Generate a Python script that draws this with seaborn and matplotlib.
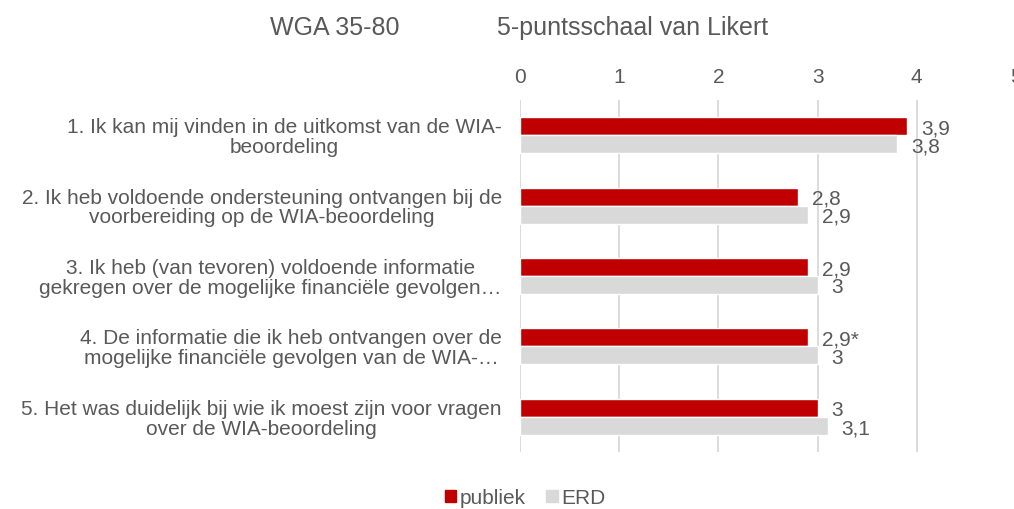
import matplotlib
matplotlib.use("Agg")
import matplotlib.pyplot as plt
from matplotlib.patches import Patch
import pandas as pd
import seaborn as sns

vragen = [
    "1. Ik kan mij vinden in de uitkomst van de WIA-\nbeoordeling",
    "2. Ik heb voldoende ondersteuning ontvangen bij de\nvoorbereiding op de WIA-beoordeling",
    "3. Ik heb (van tevoren) voldoende informatie\ngekregen over de mogelijke financiële gevolgen…",
    "4. De informatie die ik heb ontvangen over de\nmogelijke financiële gevolgen van de WIA-…",
    "5. Het was duidelijk bij wie ik moest zijn voor vragen\nover de WIA-beoordeling",
]
publiek = [3.9, 2.8, 2.9, 2.9, 3.0]
erd = [3.8, 2.9, 3.0, 3.0, 3.1]
labels_publiek = ["3,9", "2,8", "2,9", "2,9*", "3"]
labels_erd = ["3,8", "2,9", "3", "3", "3,1"]

df = pd.DataFrame({
    "vraag": vragen * 2,
    "score": publiek + erd,
    "groep": ["publiek"] * 5 + ["ERD"] * 5,
})

sns.set_style("white")
plt.rcParams['font.family'] = ['Liberation Sans', 'DejaVu Sans']
txt = "#595959"

fig = plt.figure(figsize=(10.14, 5.09), dpi=100)
ax = fig.add_axes([520 / 1014, 1 - 452 / 509, (1016 - 520) / 1014, (452 - 100) / 509])

sns.barplot(data=df, y="vraag", x="score", hue="groep", orient="h",
            palette={"publiek": "#C00000", "ERD": "#D9D9D9"},
            width=0.51, gap=0, ax=ax, legend=False, saturation=1)

for cont, labs in zip(ax.containers, [labels_publiek, labels_erd]):
    teksten = ax.bar_label(cont, labels=labs, padding=10, fontsize=15, color=txt)
    for t in teksten:
        t.xyann = (10, -2)  # labels zitten iets onder het midden van de balk

ax.set_xlim(0, 5)
ax.set_ylim(4.5, -0.5)
ax.set_xticks([0, 1, 2, 3, 4, 5])
ax.xaxis.tick_top()
ax.tick_params(axis="x", length=0, pad=9.5, labelsize=15, labelcolor=txt)
ax.tick_params(axis="y", length=0, pad=13, labelsize=15, labelcolor=txt)
for t in ax.get_yticklabels():
    t.set_multialignment("center")
    t.set_linespacing(1.05)
ax.set_xlabel("")
ax.set_ylabel("")
ax.grid(axis="x", color="#D9D9D9", linewidth=1.3)
ax.set_axisbelow(True)
for s in ax.spines.values():
    s.set_visible(False)

fig.text(270 / 1014, 1 - 28 / 509, "WGA 35-80", fontsize=18, color=txt, va="center", ha="left")
fig.text(497 / 1014, 1 - 28 / 509, "5-puntsschaal van Likert", fontsize=18, color=txt, va="center", ha="left")

handles = [Patch(color="#C00000", label="publiek"), Patch(color="#D9D9D9", label="ERD")]
fig.legend(handles=handles, loc="center", bbox_to_anchor=(525 / 1014, 1 - 498 / 509), ncol=2,
           frameon=False, fontsize=15, labelcolor=txt, handlelength=0.55, handleheight=0.55,
           handletextpad=0.15, columnspacing=1.0)

fig.savefig("out.png", dpi=100)
